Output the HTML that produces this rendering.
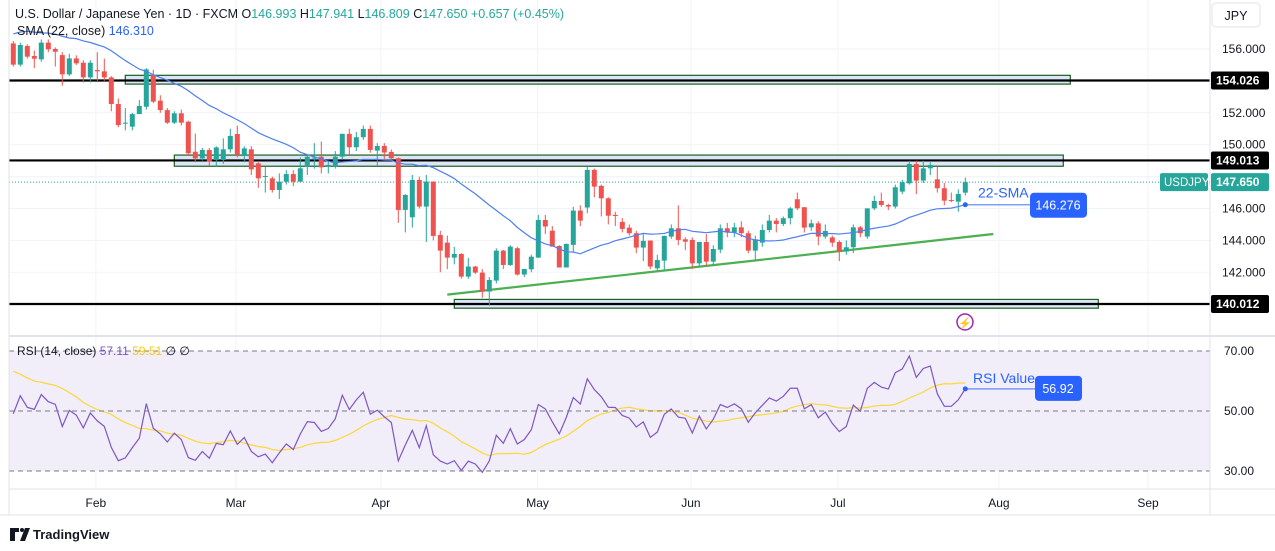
<!DOCTYPE html>
<html><head><meta charset="utf-8">
<style>
html,body{margin:0;padding:0;background:#fff;width:1275px;height:551px;overflow:hidden;font-family:"Liberation Sans",sans-serif}
svg text{font-family:"Liberation Sans",sans-serif}
</style></head>
<body>
<svg id="chart" width="1275" height="551" viewBox="0 0 1275 551" xmlns="http://www.w3.org/2000/svg">
  <rect x="0" y="0" width="1275" height="551" fill="#fff"/>
  <g id="grid"></g>
  <rect x="9" y="351" width="1201" height="120" fill="#f1edf9"/>
  <g id="zones"></g>
  <g id="candles"></g>
  <g id="lines"></g>
  <g id="axes"></g>
</svg>
<script>
const categories = Array.from({length:137},(_, i)=>i);
const opens=[156.35,155.02,156.19,155.56,155.35,156.40,156.00,155.62,154.41,155.41,155.14,154.22,154.68,154.60,154.22,152.55,151.34,151.13,151.92,152.38,154.37,152.76,152.17,151.38,151.97,151.44,149.56,149.14,149.67,149.04,149.04,149.71,150.67,149.35,149.71,148.83,147.99,147.89,147.16,147.68,148.16,147.68,148.62,149.14,149.25,148.63,148.63,149.25,150.68,149.84,150.47,150.99,149.63,149.92,149.55,149.15,145.91,145.45,147.79,146.12,147.69,144.34,143.86,142.92,143.15,141.73,142.36,141.98,140.79,141.48,143.36,142.46,143.51,141.86,142.19,142.92,145.28,144.61,143.65,142.30,143.72,145.87,146.06,148.42,147.42,146.64,145.60,145.16,144.80,144.45,143.55,143.99,142.25,142.73,144.24,144.76,144.07,144.03,142.56,143.90,142.67,143.42,144.76,144.49,144.82,144.45,143.36,143.86,144.65,145.24,145.03,145.39,146.58,146.08,144.82,145.07,144.24,144.19,143.90,143.30,143.57,144.82,144.24,146.01,146.47,146.22,146.12,147.06,147.58,148.79,147.75,148.52,147.83,147.27,146.53,146.43,146.993];
const closes=[155.02,156.25,155.52,155.39,156.40,155.98,155.83,154.41,155.41,155.10,154.22,155.14,154.60,154.22,152.55,151.23,151.38,151.92,152.43,154.72,152.70,152.17,151.38,151.97,151.38,149.46,149.14,149.67,148.94,149.83,149.71,150.55,149.35,149.77,148.45,147.89,148.04,147.16,147.68,148.16,147.68,148.52,149.25,149.19,148.58,148.73,149.25,150.68,149.84,150.47,150.99,149.67,149.92,149.51,149.15,145.91,146.85,147.79,146.12,147.69,144.28,143.36,142.92,143.15,141.73,142.36,141.98,140.79,141.52,143.36,142.46,143.61,141.86,142.21,142.98,145.28,144.87,143.61,142.30,143.78,145.87,145.24,148.42,147.37,146.64,145.55,145.53,144.72,144.45,143.55,143.97,142.36,142.77,144.28,144.76,144.03,143.92,142.56,143.90,142.67,143.46,144.76,144.51,144.82,144.45,143.36,144.07,144.65,145.24,145.03,145.39,146.01,146.01,144.80,145.07,144.24,144.59,143.86,143.30,143.57,144.82,144.45,146.01,146.47,146.22,146.12,147.33,147.64,148.79,147.75,148.52,148.73,147.27,146.49,146.49,146.91,147.650];
const highs=[156.5,156.4,156.3,155.9,156.6,156.6,156.1,155.8,155.7,155.6,155.3,155.3,155.8,155.4,154.3,152.9,152.3,152.0,152.8,154.8,154.7,153.1,152.3,152.1,152.2,151.5,150.7,149.8,149.8,149.9,150.4,151.0,151.2,149.9,149.9,148.9,148.6,148.0,148.2,148.4,148.4,149.2,149.4,150.1,150.2,149.0,149.6,150.7,151.0,150.8,151.2,151.2,150.1,150.1,149.7,149.2,146.9,148.1,148.0,148.1,147.7,144.6,144.3,143.6,143.2,142.9,142.4,142.2,141.7,143.5,143.4,143.7,143.6,142.2,143.1,145.6,145.6,144.9,143.7,143.8,146.1,146.2,148.6,148.5,147.5,146.7,145.8,145.4,145.0,144.6,144.4,144.0,143.1,144.3,145.0,146.2,144.2,144.2,143.9,144.4,143.7,145.0,145.1,145.1,145.2,144.6,144.3,145.0,145.6,145.4,145.5,146.1,147.0,146.1,145.3,145.2,145.0,144.3,144.0,144.0,145.0,144.9,146.0,146.8,147.0,146.3,147.5,147.8,149.0,149.0,149.0,148.9,148.6,147.6,147.0,147.2,147.941];
const lows=[154.9,154.9,155.4,154.8,155.2,155.8,154.9,153.7,154.3,155.0,153.9,153.9,154.0,154.0,152.1,151.1,150.9,150.9,152.1,152.2,152.6,152.0,151.3,151.3,151.2,149.3,148.9,149.0,148.7,148.6,148.8,149.5,149.2,148.9,148.1,147.3,147.0,147.0,146.6,147.5,147.4,148.2,148.1,148.5,148.2,148.2,148.5,149.1,149.4,149.6,150.3,149.5,148.7,149.1,149.0,145.1,144.5,144.8,146.0,143.9,144.0,142.0,142.2,142.5,141.6,141.6,141.9,140.4,139.9,141.3,142.2,142.4,141.8,141.7,142.0,142.9,144.4,143.9,142.3,142.3,143.3,144.9,145.7,146.7,145.5,145.0,144.9,144.5,144.3,143.2,142.7,142.2,142.1,142.1,144.1,143.7,143.4,142.2,142.3,142.4,142.4,143.2,144.2,144.2,144.2,143.2,142.7,143.6,144.5,144.5,144.9,145.0,145.9,144.5,144.6,143.7,144.1,143.6,142.7,143.1,143.2,144.2,144.1,145.9,146.1,145.9,146.0,146.9,147.5,146.9,147.6,148.1,147.0,146.2,146.4,145.8,146.809];
const priorCloses=[153.6,154.4,156.7,157.4,156.4,157.2,157.3,157.8,156.0,157.4,157.3,157.7,157.3,157.8,158.1,158.0,157.9,158.2,157.9,157.2,156.2];
const priceTicks=[156,152,150,146,144,142];
const levels=[154.026,149.013,140.012];
const zoneTop=[154.35,149.35,140.3];
const zoneBot=[153.8,148.65,139.75];
const zoneStart=[16,23,63];
const zoneEnd=[151,150,155];
const trendIdx=[62,140];
const trendVal=[140.6,144.4];
const rsiTicks=[70,50,30];
const monthLabels=["Feb","Mar","Apr","May","Jun","Jul","Aug","Sep"];
const monthIdx=[11.8,31.8,52.5,74.9,96.8,117.8,140.8,162.1];

const NS="http://www.w3.org/2000/svg";
const X=i=>13.3+7*i;
const Y=p=>49+(156-p)*15.95;
const RY=r=>411-(r-50)*3;
function mk(tag,attrs,parent){const e=document.createElementNS(NS,tag);for(const k in attrs)e.setAttribute(k,attrs[k]);parent.appendChild(e);return e;}
const grid=document.getElementById('grid'),zones=document.getElementById('zones'),cg=document.getElementById('candles'),lg=document.getElementById('lines'),ax=document.getElementById('axes');

// grid
[156,154,152,150,148,146,144,142,140].forEach(p=>{const l=mk('line',{x1:9,x2:1210,y1:Y(p),y2:Y(p),stroke:'#f0f3fa'},grid);});
monthIdx.forEach(m=>{const l=mk('line',{x1:X(m),x2:X(m),y1:0,y2:489,stroke:'#f0f3fa'},grid);});

// zones + levels
levels.forEach((lv,k)=>{
  const r=mk('rect',{x:X(zoneStart[k]),y:Y(zoneTop[k]),width:X(zoneEnd[k])-X(zoneStart[k]),height:Y(zoneBot[k])-Y(zoneTop[k]),fill:'#dbe6f6',stroke:'#1b5e20','stroke-width':1.2},zones);
  
  const l=mk('line',{x1:9,x2:1210,y1:Y(lv),y2:Y(lv),stroke:'#000','stroke-width':2.2},zones);
  
});
// trendline
const tl=mk('line',{x1:X(trendIdx[0]),y1:Y(trendVal[0]),x2:X(trendIdx[1]),y2:Y(trendVal[1]),stroke:'#4caf50','stroke-width':2.2},zones);

// current price dotted
const cp=mk('line',{x1:9,x2:1210,y1:Y(closes[closes.length-1]),y2:Y(closes[closes.length-1]),stroke:'#26a69a','stroke-dasharray':'1 2'},zones);


// candles
categories.forEach(i=>{
  const up=closes[i]>=opens[i],col=up?'#26a69a':'#ef5350';
  const g=mk('g',{},cg);
  
  mk('line',{x1:X(i),x2:X(i),y1:Y(highs[i]),y2:Y(lows[i]),stroke:col,'stroke-width':1},g);
  const t=Y(Math.max(opens[i],closes[i])),b=Y(Math.min(opens[i],closes[i]));
  mk('rect',{x:X(i)-2.5,y:t,width:5,height:Math.max(1,b-t),fill:col},g);
});

// SMA 22
const all=priorCloses.concat(closes);
const sma=categories.map(i=>{let s=0;for(let k=0;k<22;k++)s+=all[i+priorCloses.length-k];return s/22;});
const smaP=mk('polyline',{points:sma.map((v,i)=>X(i)+','+Y(v)).join(' '),fill:'none',stroke:'#4f7ff0','stroke-width':1.2},lg);


// RSI 14 (Wilder)
let ag=0,al=0;
for(let k=1;k<=14;k++){const d=all[k]-all[k-1];if(d>0)ag+=d;else al-=d;}
ag/=14;al/=14;
const rsiAll=[];
for(let k=15;k<all.length;k++){const d=all[k]-all[k-1];ag=(ag*13+Math.max(d,0))/14;al=(al*13+Math.max(-d,0))/14;rsiAll.push(100-100/(1+ag/(al||1e-9)));}
const off=all.length-15-closes.length+1; // rsiAll index offset so that last aligns
const rsi=categories.map(i=>rsiAll[rsiAll.length-closes.length+i]);
const rsiMa=categories.map(i=>{let s=0,n=0;for(let k=0;k<14;k++){const v=rsiAll[rsiAll.length-closes.length+i-k];if(v!==undefined){s+=v;n++;}}return s/n;});
const maP=mk('polyline',{points:rsiMa.map((v,i)=>X(i)+','+RY(v)).join(' '),fill:'none',stroke:'#fdd835','stroke-width':1.2},lg);

const rP=mk('polyline',{points:rsi.map((v,i)=>X(i)+','+RY(v)).join(' '),fill:'none',stroke:'#7e57c2','stroke-width':1.2},lg);

rsiTicks.forEach(t=>{const l=mk('line',{x1:9,x2:1210,y1:RY(t),y2:RY(t),stroke:'#787b86','stroke-dasharray':'5 4'},lg);});

// annotations
const last=categories.length-1;
const smaY=Y(sma[last]);
mk('line',{x1:X(last),x2:1030,y1:smaY,y2:smaY,stroke:'#2962ff','stroke-width':1.5,opacity:0.6},lg);
mk('circle',{cx:X(last),cy:smaY,r:2.5,fill:'#2962ff'},lg);
const t1=mk('text',{x:978,y:smaY-7,'font-size':14,fill:'#2962ff'},lg);t1.textContent='22-SMA';

const b1=mk('rect',{x:1030,y:smaY-12,width:57,height:25,rx:4,fill:'#2962ff'},lg);

const bt1=mk('text',{x:1058,y:smaY+5,'font-size':12.5,fill:'#fff','text-anchor':'middle'},lg);bt1.textContent='146.276';
const rY=RY(rsi[last]);
mk('line',{x1:X(last),x2:1036,y1:rY,y2:rY,stroke:'#2962ff','stroke-width':1.5,opacity:0.6},lg);
mk('circle',{cx:X(last),cy:rY,r:2.5,fill:'#2962ff'},lg);
const t2=mk('text',{x:973,y:rY-6,'font-size':14,fill:'#2962ff'},lg);t2.textContent='RSI Value';

const b2=mk('rect',{x:1035,y:rY-13,width:47,height:25,rx:4,fill:'#2962ff'},lg);

const bt2=mk('text',{x:1058,y:rY+4,'font-size':12.5,fill:'#fff','text-anchor':'middle'},lg);bt2.textContent='56.92';
const ic=mk('circle',{cx:965,cy:322,r:8,fill:'none',stroke:'#9c27b0','stroke-width':1.5},lg);

const ict=mk('text',{x:965,y:327,'font-size':11,fill:'#9c27b0','text-anchor':'middle'},lg);ict.textContent='⚡';

// axes frame
mk('line',{x1:9,x2:9,y1:0,y2:515,stroke:'#e0e3eb'},ax);
mk('line',{x1:1210,x2:1210,y1:0,y2:515,stroke:'#e0e3eb'},ax);
mk('line',{x1:9,x2:1275,y1:336,y2:336,stroke:'#e0e3eb','stroke-width':2},ax);
mk('line',{x1:9,x2:1275,y1:489,y2:489,stroke:'#e0e3eb'},ax);
mk('line',{x1:0,x2:1275,y1:515,y2:515,stroke:'#e0e3eb'},ax);
priceTicks.forEach(p=>{const t=mk('text',{x:1222,y:Y(p)+4,'font-size':12,fill:'#131722'},ax);t.textContent=p.toFixed(3);});
levels.forEach(lv=>{
  const r=mk('rect',{x:1211,y:Y(lv)-9,width:58,height:18,rx:2,fill:'#000'},ax);
  
  const t=mk('text',{x:1216,y:Y(lv)+4,'font-size':12,fill:'#fff','font-weight':'bold'},ax);t.textContent=lv.toFixed(3);
});
const cy=Y(closes[last]);
const sb=mk('rect',{x:1160,y:cy-9,width:48,height:18,rx:2,fill:'#26a69a'},ax);

const st=mk('text',{x:1164,y:cy+4,'font-size':11.5,fill:'#fff'},ax);st.textContent='USDJPY';
const pb=mk('rect',{x:1211,y:cy-9,width:58,height:18,rx:2,fill:'#26a69a'},ax);

const pt=mk('text',{x:1216,y:cy+4,'font-size':12,fill:'#fff','font-weight':'bold'},ax);pt.textContent=closes[last].toFixed(3);
rsiTicks.forEach(t=>{const e=mk('text',{x:1224,y:RY(t)+4,'font-size':12,fill:'#131722'},ax);e.textContent=t.toFixed(2);});
monthLabels.forEach((m,k)=>{const e=mk('text',{x:X(monthIdx[k]),y:507,'font-size':12,fill:'#131722','text-anchor':'middle'},ax);e.textContent=m;});

// header
const h=mk('text',{x:15,y:18,'font-size':12.5,fill:'#131722'},ax);

h.innerHTML='U.S. Dollar / Japanese Yen · 1D · FXCM  <tspan>O</tspan><tspan fill="#26a69a">146.993</tspan>  H<tspan fill="#26a69a">147.941</tspan>  L<tspan fill="#26a69a">146.809</tspan>  C<tspan fill="#26a69a">147.650</tspan> <tspan fill="#26a69a">+0.657 (+0.45%)</tspan>';
h.setAttribute('xml:space','preserve');
const s=mk('text',{x:17,y:35,'font-size':12.5,fill:'#131722'},ax);

s.innerHTML='SMA (22, close)  <tspan fill="#2962ff">146.310</tspan>';s.setAttribute('xml:space','preserve');
const rl=mk('text',{x:17,y:355,'font-size':12,fill:'#131722'},ax);

rl.innerHTML='RSI (14, close)  <tspan fill="#7e57c2">57.11</tspan>  <tspan fill="#f9c80e">59.51</tspan>  ∅  ∅';rl.setAttribute('xml:space','preserve');
const jb=mk('rect',{x:1212,y:3,width:48,height:24,rx:4,fill:'#fff',stroke:'#e0e3eb'},ax);

const jt=mk('text',{x:1236,y:20,'font-size':12.5,fill:'#131722','text-anchor':'middle'},ax);jt.textContent='JPY';
// logo
const lgG=mk('g',{},ax);
mk('path',{d:'M10 528h9v4h-4v9h-5zM20 541l5-13h5l-5 13z',fill:'#131722'},lgG);
mk('circle',{cx:22,cy:530,r:2,fill:'#131722'},lgG);
const lt=mk('text',{x:33,y:539,'font-size':13,fill:'#131722','font-weight':'bold'},lgG);lt.textContent='TradingView';
</script>
</body></html>
